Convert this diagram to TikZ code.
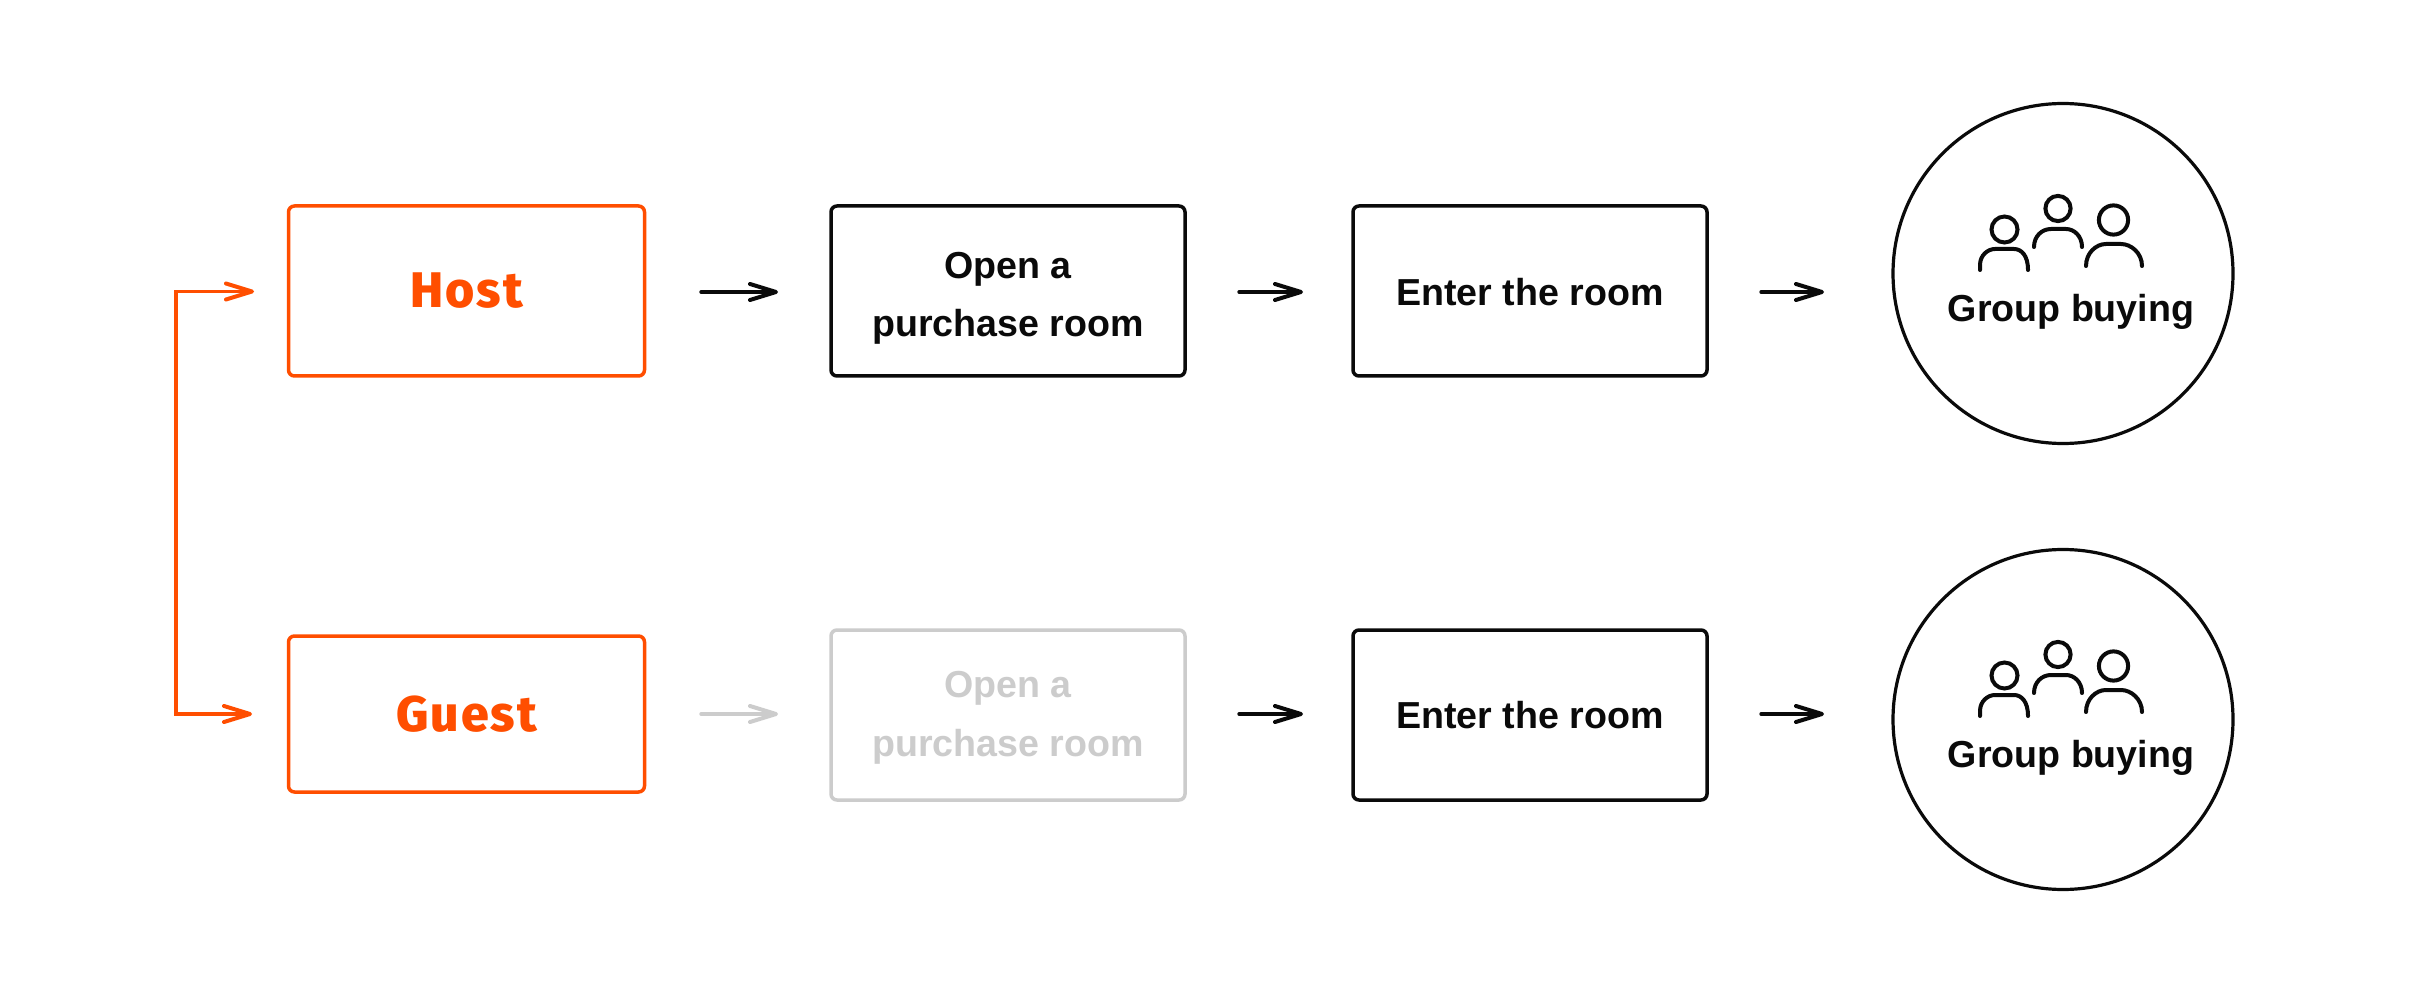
\documentclass[tikz,border=0pt]{standalone}
\usepackage{fontspec}
\usetikzlibrary{arrows.meta}
\setmainfont{Liberation Sans}
\newfontfamily\labelfont{Fira Sans}[BoldFont={* ExtraBold},LetterSpace=4]
\definecolor{hot}{HTML}{FF4E00}
\definecolor{faint}{HTML}{CCCCCC}
\definecolor{ink}{HTML}{0A0A0A}
\newcommand{\lowerA}{\rule{0pt}{15.7pt}}
\newcommand{\lowerAA}{\rule{0pt}{20.3pt}}
\newcommand{\lowerB}{\rule{0pt}{14.7pt}}
\tikzset{
  x=0.5pt,y=-0.5pt,
  stepbox/.style={draw=ink,line width=1.75pt,rounded corners=3pt,inner sep=0pt,align=center,text=ink,font=\fontsize{18.8}{29.2}\selectfont\bfseries},
  hotbox/.style={stepbox,draw=hot,text=hot,font=\fontsize{25}{28}\labelfont\bfseries},
  faintbox/.style={stepbox,draw=faint,text=faint},
  flow/.style={draw=ink,line width=1.7pt,line cap=round,-{Straight Barb[length=13pt,width=8pt,line width=2pt,round]}},
  hotflow/.style={flow,draw=hot},
  faintflow/.style={flow,draw=faint},
  ring/.style={circle,draw=ink,line width=1.6pt,minimum size=170pt,inner sep=0pt},
  caption/.style={inner sep=0pt,text=ink,font=\fontsize{18.8}{22}\selectfont\bfseries},
  person/.style={draw=ink,line width=2pt,line cap=round},
}
\begin{document}
\begin{tikzpicture}
\useasboundingbox (0,0) rectangle (2420,994);
\fill[white] (0,0) rectangle (2420,994);
% row 1
\node[hotbox,minimum width=178pt,minimum height=85pt] (host) at (466.5,291) {Host};
\node[stepbox,minimum width=177pt,minimum height=85pt] (open1) at (1008,291) {\lowerAA Open a\\purchase room};
\node[stepbox,minimum width=177pt,minimum height=85pt] (enter1) at (1530,291) {\lowerB Enter the room};
\node[ring] (g1) at (2063,273.5) {};
\node[caption] (t1) at (2071,312) {Group buying};
% row 2
\node[hotbox,minimum width=178pt,minimum height=78pt] (guest) at (466.5,714) {Guest};
\node[faintbox,minimum width=177pt,minimum height=85pt] (open2) at (1008,715) {\lowerA Open a\\purchase room};
\node[stepbox,minimum width=177pt,minimum height=85pt] (enter2) at (1530,715) {Enter the room};
\node[ring] (g2) at (2063,719.5) {};
\node[caption] (t2) at (2071,758) {Group buying};
% free ends
\coordinate (split) at (176,500);
\coordinate (ha) at (254,291.5);
\coordinate (ga) at (252,714);
\draw[hotflow] (split) -- (176,291.5) -- (ha);
\draw[hotflow] (split) -- (176,714) -- (ga);
\foreach \a/\b/\st/\y in {701/778/flow/292,1239/1303/flow/292,1761/1824/flow/292,701/778/faintflow/714,1239/1303/flow/714,1761/1824/flow/714}{
  \coordinate (p) at (\a,\y); \coordinate (q) at (\b,\y);
  \draw[\st] (p) -- (q);
}
% people
\foreach \dy in {0,446}{
\begin{scope}[yshift=-0.5pt*\dy]
\draw[person] (2004.5,229.5) circle (6.5pt);
\draw[person] (1980,270) -- (1980,265) .. controls (1980,255) and (1988,249) .. (1995,249) -- (2014,249) .. controls (2021,249) and (2028,255) .. (2028,270);
\draw[person] (2058,208.5) circle (6.3pt);
\draw[person] (2034,247) .. controls (2034,236) and (2042,229) .. (2051,229) -- (2066,229) .. controls (2074,229) and (2082,236) .. (2082,247);
\draw[person] (2113.5,220) circle (7.3pt);
\draw[person] (2086,266) .. controls (2086,253) and (2096,244) .. (2106,244) -- (2121,244) .. controls (2131,244) and (2142,253) .. (2142,266);
\end{scope}
}
\end{tikzpicture}
\end{document}
